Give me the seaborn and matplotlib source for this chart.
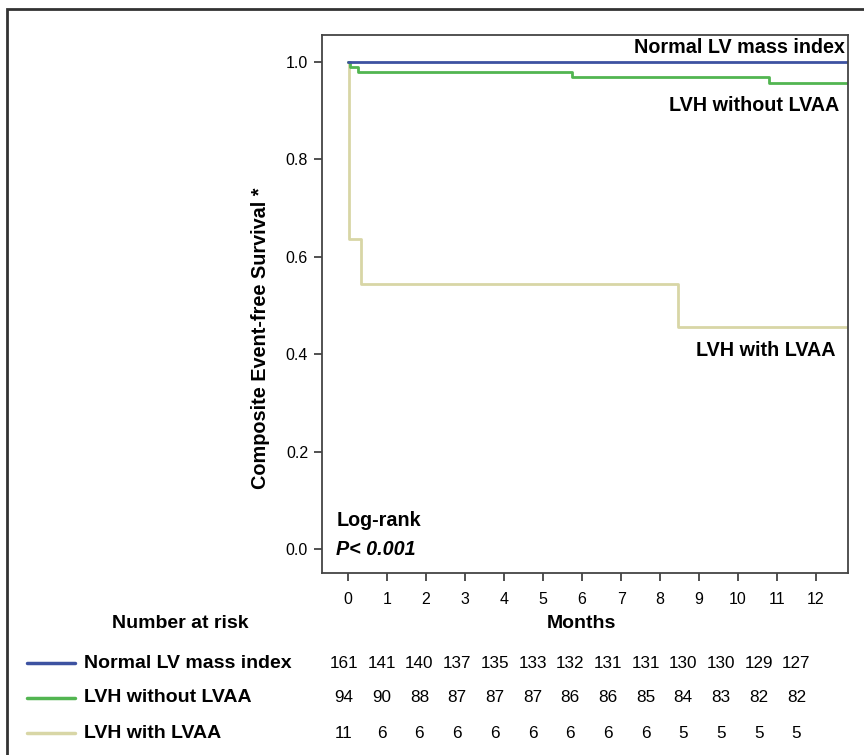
import numpy as np
import pandas as pd
import matplotlib
matplotlib.use("Agg")
import matplotlib.pyplot as plt
import matplotlib.patches as mpatches
import seaborn as sns

# ==============================
# DATA
# ==============================
groups = ["Normal LV mass index", "LVH without LVAA", "LVH with LVAA"]

normal_time = [0, 12.82]
normal_surv = [1.0, 1.0]

lvh_no_time = [0, 0.05, 0.25, 5.75, 10.8, 12.82]
lvh_no_surv = [1.0, 0.989, 0.979, 0.968, 0.957, 0.957]

lvaa_time = [0, 0.03, 0.33, 8.45, 12.82]
lvaa_surv = [1.0, 0.636, 0.545, 0.455, 0.455]

risk_normal = [161, 141, 140, 137, 135, 133, 132, 131, 131, 130, 130, 129, 127]
risk_lvh_no = [94, 90, 88, 87, 87, 87, 86, 86, 85, 84, 83, 82, 82]
risk_lvaa = [11, 6, 6, 6, 6, 6, 6, 6, 6, 5, 5, 5, 5]

months = list(range(0, 13))
y_ticks = [0.0, 0.2, 0.4, 0.6, 0.8, 1.0]

colors = {
    "Normal LV mass index": "#3d52a1",
    "LVH without LVAA": "#52b551",
    "LVH with LVAA": "#d8d6a6",
}

df = pd.concat([
    pd.DataFrame({"time": normal_time, "surv": normal_surv, "group": groups[0]}),
    pd.DataFrame({"time": lvh_no_time, "surv": lvh_no_surv, "group": groups[1]}),
    pd.DataFrame({"time": lvaa_time, "surv": lvaa_surv, "group": groups[2]}),
])

# ==============================
# FIGURE
# ==============================
sns.set_style("white")
plt.rcParams["font.family"] = ["Liberation Sans", "DejaVu Sans"]
plt.rcParams["text.color"] = "black"

W, H = 864, 755
fig = plt.figure(figsize=(W / 100, H / 100), dpi=100)


def fx(px):
    return px / W


def fy(py):
    return 1 - py / H


ax = fig.add_axes([fx(322), fy(573), fx(848) - fx(322), fy(35) - fy(573)])

sns.lineplot(
    data=df, x="time", y="surv", hue="group", palette=colors,
    drawstyle="steps-post", linewidth=2.0, legend=False, ax=ax,
    hue_order=[groups[2], groups[1], groups[0]]
)

ax.set_xlim(-0.67, 12.82)
ax.set_ylim(-0.049, 1.055)
ax.set_xticks(months)
ax.set_yticks(y_ticks)
ax.set_yticklabels([f"{v:.1f}" for v in y_ticks])
ax.tick_params(axis="both", direction="out", length=6, width=1.2,
               bottom=True, left=True,
               labelsize=11.5, color="#333333", labelcolor="black", pad=4)
ax.tick_params(axis="x", pad=8)
ax.set_xlabel("")
ax.set_ylabel("")
for s in ax.spines.values():
    s.set_color("#444444")
    s.set_linewidth(1.3)

# curve labels
lab = dict(fontsize=14.2, fontweight="bold", color="black")
ax.text(12.75, 1.03, "Normal LV mass index", ha="right", va="center", **lab)
ax.text(12.6, 0.91, "LVH without LVAA", ha="right", va="center", **lab)
ax.text(12.5, 0.407, "LVH with LVAA", ha="right", va="center", **lab)
ax.text(-0.3, 0.058, "Log-rank", ha="left", va="center", **lab)
ax.text(-0.3, 0.0, "P< 0.001", ha="left", va="center", style="italic", **lab)

fig.text(fx(260), fy(338), "Composite Event-free Survival *", rotation=90,
         ha="center", va="center", fontsize=14.3, fontweight="bold")

fig.text(fx(581), fy(623), "Months", ha="center", va="center",
         fontsize=14, fontweight="bold")
fig.text(fx(180), fy(623), "Number at risk", ha="center", va="center",
         fontsize=14, fontweight="bold")

# ==============================
# NUMBER AT RISK TABLE
# ==============================
rows = [risk_normal, risk_lvh_no, risk_lvaa]
row_y = [663, 698, 733]
for g, vals, py in zip(groups, rows, row_y):
    fig.add_artist(plt.Line2D([fx(27), fx(75)], [fy(py), fy(py)],
                              color=colors[g], linewidth=2.5))
    fig.text(fx(84), fy(py), g, ha="left", va="center",
             fontsize=14, fontweight="bold")
    for i, v in enumerate(vals):
        fig.text(fx(344 + i * 37.7), fy(py), str(v), ha="center",
                 va="center", fontsize=12.3)

# outer frame
fig.add_artist(mpatches.Rectangle((fx(7), fy(H + 20)), 1.2, fy(9) - fy(H + 20),
                                  fill=False, edgecolor="#333333",
                                  linewidth=2, transform=fig.transFigure))

plt.savefig("out.png", dpi=100)
